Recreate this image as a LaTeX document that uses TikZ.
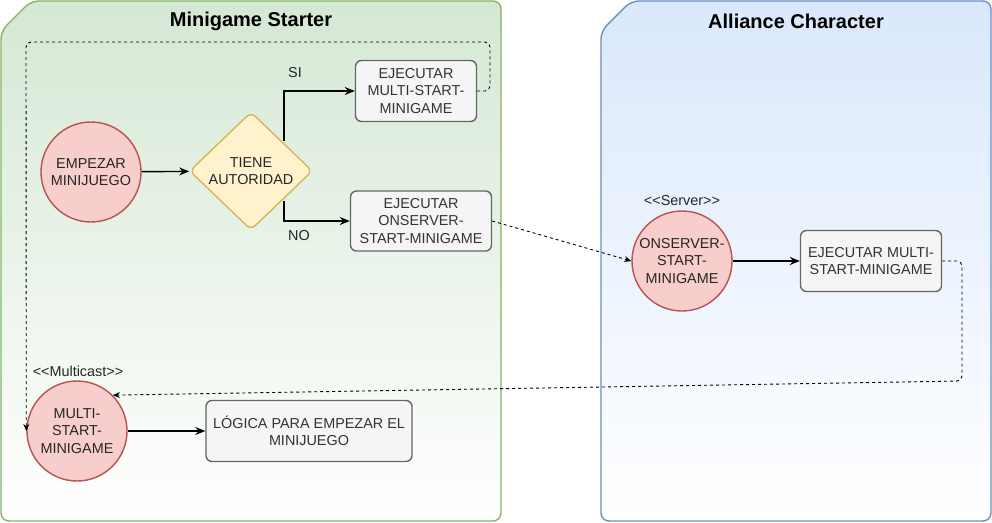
\documentclass[tikz,border=0pt]{standalone}
\usepackage{fontspec}
\setmainfont{Liberation Sans}
\usetikzlibrary{shapes.geometric,arrows.meta}
\definecolor{grnfill}{HTML}{D5E8D4}
\definecolor{grnstroke}{HTML}{82B366}
\definecolor{bluefill}{HTML}{DAE8FC}
\definecolor{bluestroke}{HTML}{6C8EBF}
\definecolor{redfill}{HTML}{F8CECC}
\definecolor{redstroke}{HTML}{B85450}
\definecolor{yelfill}{HTML}{FFF2CC}
\definecolor{yelstroke}{HTML}{D6B656}
\definecolor{gryfill}{HTML}{F5F5F5}
\definecolor{grystroke}{HTML}{666666}
\definecolor{grytext}{HTML}{333333}
\newcommand{\nodefont}{\fontsize{14.4}{17.5}\selectfont}
\begin{document}
\begin{tikzpicture}[x=1pt,y=-1pt,
  circ/.style={circle, draw=redstroke, fill=redfill, line width=1.4pt, minimum size=100pt, inner sep=0pt, align=center, font=\nodefont, text=black!85},
  boxn/.style={rectangle, rounded corners=6pt, draw=grystroke, fill=gryfill, line width=1.4pt, inner sep=0pt, align=center, font=\nodefont, text=grytext},
  dia/.style={diamond, rounded corners=6pt, draw=yelstroke, fill=yelfill, line width=1.4pt, inner sep=0pt, minimum width=123pt, minimum height=118pt, align=center, font=\nodefont, text=black!85},
  lbl/.style={font=\nodefont, text=black!85, inner sep=0pt},
  ttl/.style={font=\fontsize{20}{23}\selectfont\bfseries, inner sep=0pt},
  arr/.style={-{Stealth[length=10pt,width=8pt]}, line width=1.4pt},
  dsh/.style={dash pattern=on 3pt off 3pt, line width=0.9pt, -{Stealth[length=7pt,width=6pt]}},
  cont/.style={line width=1.4pt, rounded corners=8pt}
]
\useasboundingbox (0,0) rectangle (992,522);
% containers
\path[cont, draw=grnstroke, top color=grnfill, bottom color=white] (1,31) -- (31,1) -- (501,1) -- (501,521) -- (1,521) -- cycle;
\path[cont, draw=bluestroke, top color=bluefill, bottom color=white] (601,31) -- (631,1) -- (991,1) -- (991,521) -- (601,521) -- cycle;
\node[ttl] (tl) at (251,21) {Minigame Starter};
\node[ttl] (tr) at (796,21) {Alliance Character};
% nodes
\node[circ] (e) at (91,172) {EMPEZAR\\MINIJUEGO};
\node[dia] (d) at (251,171) {TIENE\\AUTORIDAD};
\node[boxn, minimum width=121pt, minimum height=61pt] (b1) at (416,91) {EJECUTAR\\MULTI-START-\\MINIGAME};
\node[boxn, minimum width=141pt, minimum height=60pt] (b2) at (421,221) {EJECUTAR\\ONSERVER-\\START-MINIGAME};
\node[circ] (s) at (682,261) {ONSERVER-\\START-\\MINIGAME};
\node[boxn, minimum width=141pt, minimum height=61pt] (b3) at (871,261) {EJECUTAR MULTI-\\START-MINIGAME};
\node[circ] (m) at (77,431) {MULTI-\\START-\\MINIGAME};
\node[boxn, minimum width=206pt, minimum height=61pt] (b4) at (309,431) {LÓGICA PARA EMPEZAR EL\\MINIJUEGO};
% labels
\node[lbl] (si) at (295,73) {SI};
\node[lbl] (no) at (299,236) {NO};
\node[lbl] (sv) at (682,201) {<{}<Server>{}>};
\node[lbl] (mc) at (78,371) {<{}<Multicast>{}>};
% connectors
\draw[arr] (e) -- (d);
\draw[arr] ([xshift=2pt]d.north east) |- (b1);
\draw[arr] ([xshift=2pt]d.south east) |- (b2);
\draw[arr] (s) -- (b3);
\draw[arr] (m) -- (b4);
\coordinate (w1) at (490,91);
\coordinate (w2) at (490,42);
\coordinate (w3) at (26,42);
\draw[dsh, rounded corners=5pt] (b1.east) -- (w1) -- (w2) -- (w3) -- (m.west);
\draw[dsh] (b2.east) -- (s.west);
\coordinate (w4) at (962,261);
\coordinate (w5) at (962,381);
\draw[dsh, rounded corners=5pt] (b3.east) -- (w4) -- (w5) -- (m.north east);
\end{tikzpicture}
\end{document}
